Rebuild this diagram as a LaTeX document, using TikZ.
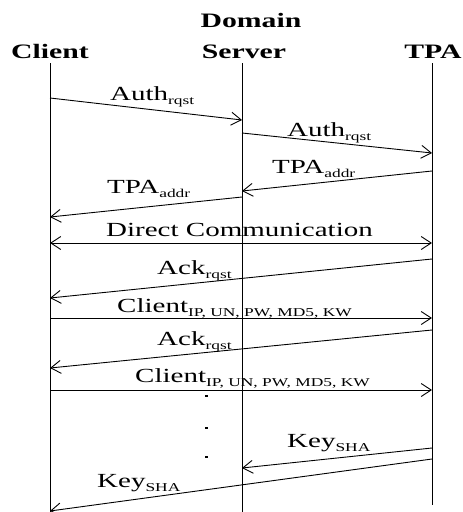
\documentclass[tikz,border=0pt]{standalone}
\usepackage{fontspec}
\setmainfont{Liberation Serif}
\newfontfamily\lbl[FakeStretch=1.45]{Liberation Serif}
\usetikzlibrary{arrows.meta}
\newcommand\msub[1]{\raisebox{-4pt}{\fontsize{12}{12}\selectfont #1}}
\begin{document}
\begin{tikzpicture}[x=1pt,y=-1pt,
 life/.style={line width=1pt},
 msg/.style={line width=0.9pt,-{Straight Barb[length=10pt,width=13pt,line width=0.9pt]}},
 msgboth/.style={line width=0.9pt,{Straight Barb[length=10pt,width=13pt,line width=0.9pt]}-{Straight Barb[length=10pt,width=13pt,line width=0.9pt]}},
 lab/.style={font=\lbl\fontsize{20}{24}\selectfont, anchor=base west, inner sep=0pt},
 hd/.style={font=\lbl\bfseries\fontsize{20.5}{24}\selectfont, anchor=base, inner sep=0pt},
 dot/.style={fill=black, inner sep=0pt, minimum width=3pt, minimum height=1.6pt}]
\useasboundingbox (0,0) rectangle (463,512);
% headers
\node[hd] (hdom) at (251,27) {Domain};
\node[hd] (hcli) at (50,58) {Client};
\node[hd] (hsrv) at (244,58) {Server};
\node[hd] (htpa) at (433,58) {TPA};
% lifelines
\coordinate (cT) at (50,63);  \coordinate (cB) at (50,512);
\coordinate (sT) at (242,63); \coordinate (sB) at (242,512);
\coordinate (tT) at (432,63); \coordinate (tB) at (432,505);
\draw[life] (cT) -- (cB);
\draw[life] (sT) -- (sB);
\draw[life] (tT) -- (tB);
% message endpoints
\coordinate (m1a) at (50,98);   \coordinate (m1b) at (242,120);
\coordinate (m2a) at (242,133); \coordinate (m2b) at (432,153);
\coordinate (m3a) at (432,171); \coordinate (m3b) at (242,191);
\coordinate (m4a) at (242,197); \coordinate (m4b) at (50,217);
\coordinate (m5a) at (50,243);  \coordinate (m5b) at (432,243);
\coordinate (m6a) at (432,259); \coordinate (m6b) at (50,298);
\coordinate (m7a) at (50,318);  \coordinate (m7b) at (432,318);
\coordinate (m8a) at (432,330); \coordinate (m8b) at (50,368);
\coordinate (m9a) at (50,390);  \coordinate (m9b) at (432,390);
\coordinate (m10a) at (432,448); \coordinate (m10b) at (242,468);
\coordinate (m11a) at (432,459); \coordinate (m11b) at (50,511);
\draw[msg] (m1a) -- (m1b);
\draw[msg] (m2a) -- (m2b);
\draw[msg] (m3a) -- (m3b);
\draw[msg] (m4a) -- (m4b);
\draw[msgboth] (m5a) -- (m5b);
\draw[msg] (m6a) -- (m6b);
\draw[msg] (m7a) -- (m7b);
\draw[msg] (m8a) -- (m8b);
\draw[msg] (m9a) -- (m9b);
\draw[msg] (m10a) -- (m10b);
\draw[msg] (m11a) -- (m11b);
% labels
\node[lab] (l1) at (110,100) {Auth\msub{rqst}};
\node[lab] (l2) at (287,136) {Auth\msub{rqst}};
\node[lab] (l3) at (272,173) {TPA\msub{addr}};
\node[lab] (l4) at (107,193) {TPA\msub{addr}};
\node[lab] (l5) at (106,236) {Direct Communication};
\node[lab] (l6) at (157,274) {Ack\msub{rqst}};
\node[lab] (l7) at (117,312) {Client\msub{IP, UN, PW, MD5, KW}};
\node[lab] (l8) at (157,345) {Ack\msub{rqst}};
\node[lab] (l9) at (135,382) {Client\msub{IP, UN, PW, MD5, KW}};
\node[lab] (l10) at (287,447) {Key\msub{SHA}};
\node[lab] (l11) at (97,487) {Key\msub{SHA}};
% dots
\node[dot] (d1) at (206,396) {};
\node[dot] (d2) at (206,428) {};
\node[dot] (d3) at (206,457) {};
\end{tikzpicture}
\end{document}
